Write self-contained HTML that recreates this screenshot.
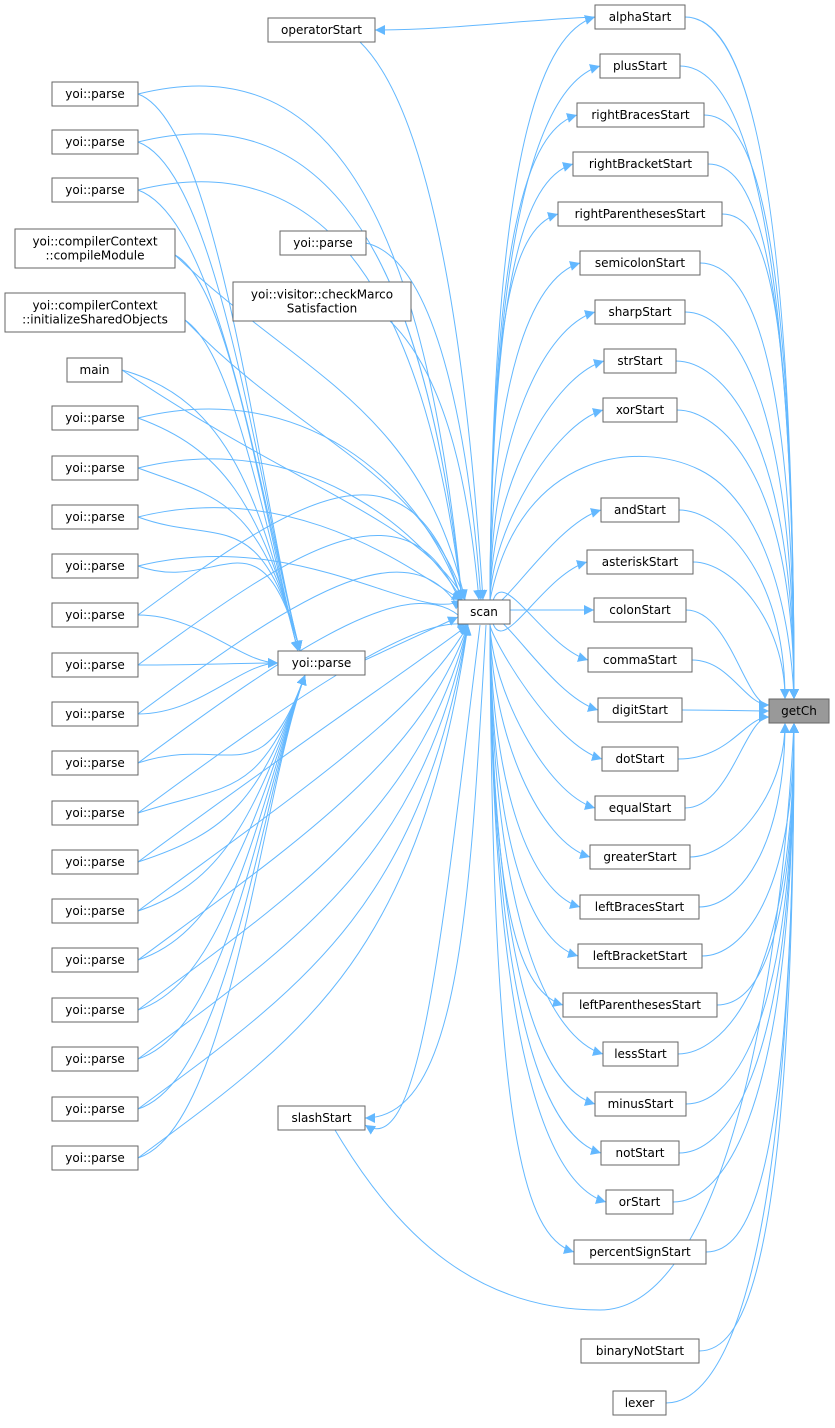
<!DOCTYPE html>
<html><head><meta charset="utf-8"><style>
body{margin:0;background:#fff;width:835px;height:1423px;overflow:hidden}
svg text{font-family:"DejaVu Sans","Liberation Sans",sans-serif;font-size:12px;fill:#000}
</style></head><body>
<svg width="835" height="1423" xmlns="http://www.w3.org/2000/svg">
<defs><marker id="a" viewBox="0 0 10 10" refX="10" refY="5" markerWidth="10" markerHeight="10" markerUnits="userSpaceOnUse" orient="auto"><path d="M0,0 L10,5 L0,10 z" fill="#63b8ff"/></marker></defs>
<g id="edges" fill="none" stroke="#63b8ff" stroke-width="1" marker-end="url(#a)"></g>
<g id="nodes"></g>
</svg>
<script>
const E=document.getElementById('edges'),N=document.getElementById('nodes');
function p(d){const e=document.createElementNS('http://www.w3.org/2000/svg','path');e.setAttribute('d',d);E.appendChild(e);}
function box(x1,x2,y1,y2,lines,fill){N.insertAdjacentHTML('beforeend',`<rect x="${x1}" y="${y1}" width="${x2-x1}" height="${y2-y1}" fill="${fill||'#fff'}" stroke="#666"/>`);
 const cx=(x1+x2)/2,n=lines.length,cy=(y1+y2)/2;lines.forEach((t,i)=>{N.insertAdjacentHTML('beforeend',`<text x="${cx}" y="${cy+4+(i-(n-1)/2)*14}" text-anchor="middle">${t}</text>`)});}
const R=[["alphaStart",595,685,17],["plusStart",600,680,66],["rightBracesStart",577,704,115],["rightBracketStart",573,708,164],["rightParenthesesStart",558,722,214],["semicolonStart",580,700,263],["sharpStart",595,685,312],["strStart",604,676,361],["xorStart",603,677,410],["andStart",601,679,510],["asteriskStart",587,693,562],["colonStart",594,686,610],["commaStart",588,692,660],["digitStart",598,682,710],["dotStart",602,678,759],["equalStart",595,685,808],["greaterStart",590,690,857],["leftBracesStart",580,699,907],["leftBracketStart",578,702,956],["leftParenthesesStart",563,717,1005],["lessStart",603,678,1054],["minusStart",595,686,1104],["notStart",601,679,1153],["orStart",606,673,1202],["percentSignStart",574,706,1252]];
const GY=711;
R.concat([["binaryNotStart",581,699,1351],["lexer",613,666,1403]]).forEach(r=>{const[t,x1,x2,y]=r;
 const d=y-GY;
 if(Math.abs(d)<20) p(`M${x2},${y} C720,${y} 740,${GY} 769,${GY}`);
 else if(Math.abs(d)<110){const ty=d<0?GY-6:GY+6;p(`M${x2},${y} C730,${y} 745,${ty} 769,${ty}`);}
 else if(d<0){const tx=d>-220?785:794;p(`M${x2},${y} C${x2+40},${y} ${tx},${y+60} ${tx},699`);}
 else {const tx=d<220?785:794;p(`M${x2},${y} C${x2+40},${y} ${tx},${y-60} ${tx},723`);}
});
R.forEach(r=>{const[t,x1,x2,y]=r;
 if(y<598)p(`M490,600 C492,${y+120} ${x1-50},${y+15} ${x1},${y}`);
 else if(y>625)p(`M490,625 C492,${y-120} ${x1-50},${y-15} ${x1},${y}`);
 else p(`M510,${y} L${x1},${y}`);});
// scan -> getCh direct
p(`M490,600 C520,450 640,440 700,470 C760,500 790,600 794,699`);
// slashStart -> getCh
p(`M335,1130 C400,1240 480,1310 600,1310 C720,1310 780,1000 794,723`);
// scan -> slashStart
p(`M486,625 C470,900 460,1118 365,1118`);
p(`M480,625 C440,950 420,1160 365,1125`);
// alpha -> operatorStart
p(`M595,17 C520,20 450,30 375,30`);
// operatorStart -> scan
p(`M360,42 C440,120 470,400 483,600`);
p(`M366,243 C440,260 470,450 481,600`);
p(`M390,321 C450,380 470,500 479,600`);
// parse -> scan
p(`M365,660 L458,617`);
const L=[94,142,190,418,468,517,566,615,665,714,763,813,862,911,960,1010,1059,1109,1158];
L.forEach(y=>{
 if(Math.abs(y-663)<60)p(`M138,${y} C200,${y} 240,663 278,663`);
 else if(y<663)p(`M138,${y} C220,${y+30} 260,500 300,651`);
 else p(`M138,${y} C230,${y-30} 260,800 305,675`);
 if(y<600)p(`M138,${y} C300,${y-40} 420,${y+60} 462,600`);
 else p(`M138,${y} C300,${y-120} 420,${y-200} 468,625`);
});
[[175,255],[185,320],[122,370]].forEach(([x,y])=>{
 p(`M${x},${y} C230,${y+30} 260,500 298,651`);
 p(`M${x},${y} C300,${y+120} 420,${y+150} 465,600`);});
R.forEach(r=>box(r[1],r[2],r[3]-12,r[3]+12,[r[0]]));
box(581,699,1339,1363,["binaryNotStart"]);box(613,666,1391,1415,["lexer"]);
box(769,829,699,723,["getCh"],"#999");
box(458,510,600,624,["scan"]);
box(278,365,651,675,["yoi::parse"]);
box(268,375,18,42,["operatorStart"]);
box(280,366,231,255,["yoi::parse"]);
box(233,411,282,321,["yoi::visitor::checkMarco","Satisfaction"]);
box(278,365,1106,1130,["slashStart"]);
L.forEach(y=>box(52,138,y-12,y+12,["yoi::parse"]));
box(15,175,229,268,["yoi::compilerContext","::compileModule"]);
box(5,185,293,332,["yoi::compilerContext","::initializeSharedObjects"]);
box(67,122,358,382,["main"]);
</script>
</body></html>
